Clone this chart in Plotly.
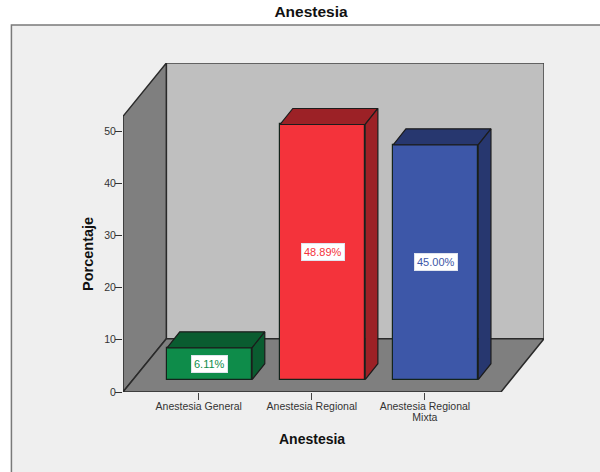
import plotly.graph_objects as go

# ---- data ----
categories = ["Anestesia General", "Anestesia Regional", "Anestesia Regional<br>Mixta"]
values = [6.11, 48.89, 45.00]
value_labels = ["6.11%", "48.89%", "45.00%"]
front_colors = ["#0e8c4a", "#f4333b", "#3d57a8"]
dark_colors = ["#0a5c30", "#9c2126", "#27376f"]
y_ticks = [0, 10, 20, 30, 40, 50]
title_text = "Anestesia"
x_title = "Anestesia"
y_title = "Porcentaje"

# ---- scales / 3-D projection ----
W, H = 600, 472
L, R, T, B = 123.0, 543.7, 63.0, 392.0
PX_X = 113.0          # px per category
PX_Y = 5.22           # px per percent
x0_px = 198.7         # px of category 0
xr = [(L - x0_px) / PX_X, (R - x0_px) / PX_X]
yr = [0, (B - T) / PX_Y]
wall_top = 52.8
floor_dx, floor_dy = 43.3 / PX_X, 53.3 / PX_Y
floor_right = (500.7 - x0_px) / PX_X
bar_dx, bar_dy = 12.7 / PX_X, 16.0 / PX_Y
bar_base = 12.3 / PX_Y
bar_w = 85.0 / PX_X
bar_shift = 10.8 / PX_X
EDGE = "#2a2a2a"

fig = go.Figure()


def poly(xs, ys, fill, width=1.5, color=EDGE):
    return dict(type="path", xref="x", yref="y", layer="below",
                path="M" + " L".join(f"{x},{y}" for x, y in zip(xs, ys)) + " Z",
                fillcolor=fill, line=dict(color=color, width=width))


shapes = [
    # outer panel
    dict(type="rect", xref="paper", yref="paper", layer="below",
         x0=(11.5 - L) / (R - L), x1=(620 - L) / (R - L),
         y0=(B - 500) / (B - T), y1=(B - 25) / (B - T),
         fillcolor="#efefef", line=dict(color="#7a7a7a", width=1.5)),
    # back wall
    poly([xr[0] + floor_dx, xr[1], xr[1], xr[0] + floor_dx],
         [floor_dy, floor_dy, wall_top + floor_dy, wall_top + floor_dy], "#bfbfbf", 1.5, "#444444"),
    # side wall
    poly([xr[0], xr[0] + floor_dx, xr[0] + floor_dx, xr[0]],
         [0, floor_dy, wall_top + floor_dy, wall_top], "#7f7f7f"),
    # floor
    poly([xr[0], floor_right, xr[1], xr[0] + floor_dx],
         [0, 0, floor_dy, floor_dy], "#7f7f7f"),
]

positions = [i + bar_shift for i in range(len(values))]

fig.add_trace(go.Bar(
    x=positions, y=values, base=bar_base, width=bar_w,
    marker=dict(color=front_colors, line=dict(color="#14241c", width=1.2)),
    showlegend=False, hoverinfo="skip",
))

for xc, v, dark in zip(positions, values, dark_colors):
    xl, xr_b = xc - bar_w / 2, xc + bar_w / 2
    top = bar_base + v
    # top face
    fig.add_trace(go.Scatter(
        x=[xl, xr_b, xr_b + bar_dx, xl + bar_dx, xl],
        y=[top, top, top + bar_dy, top + bar_dy, top],
        mode="lines", fill="toself", fillcolor=dark,
        line=dict(color="#1c1c1c", width=1.2), showlegend=False, hoverinfo="skip"))
    # side face
    fig.add_trace(go.Scatter(
        x=[xr_b, xr_b + bar_dx, xr_b + bar_dx, xr_b, xr_b],
        y=[bar_base, bar_base + bar_dy, top + bar_dy, top, bar_base],
        mode="lines", fill="toself", fillcolor=dark,
        line=dict(color="#1c1c1c", width=1.2), showlegend=False, hoverinfo="skip"))

annotations = [
    dict(x=xc, y=bar_base + v / 2, xref="x", yref="y", text=t, showarrow=False,
         font=dict(family="Liberation Sans", size=11, color=c),
         bgcolor="white", bordercolor="#dfe4ee", borderwidth=1, borderpad=2)
    for xc, v, t, c in zip(positions, values, value_labels, front_colors)
]
annotations += [
    dict(x=1, y=(B - 439) / (B - T), xref="x", yref="paper", text=f"<b>{x_title}</b>", showarrow=False,
         xanchor="center", yanchor="middle",
         font=dict(family="Liberation Sans", size=14, color="#111111")),
    dict(x=(88 - L) / (R - L), y=(B - 254) / PX_Y, xref="paper", yref="y", text=f"<b>{y_title}</b>",
         showarrow=False, textangle=-90, xanchor="center", yanchor="middle",
         font=dict(family="Liberation Sans", size=14.5, color="#111111")),
]

fig.update_layout(
    width=W, height=H, autosize=False,
    margin=dict(l=L, r=W - R, t=T, b=H - B, pad=0),
    paper_bgcolor="white", plot_bgcolor="rgba(0,0,0,0)",
    shapes=shapes, annotations=annotations, bargap=0,
    title=dict(text=f"<b>{title_text}</b>", x=311 / W, xanchor="center", y=1 - 12 / H, yanchor="middle",
               font=dict(family="Liberation Sans", size=15.5, color="#111111")),
    xaxis=dict(range=xr, tickmode="array", tickvals=list(range(len(categories))),
               ticktext=[f'<span style="font-size:10.5px">{c}</span>' for c in categories],
               ticks="outside", ticklen=7, tickwidth=1, tickcolor="#444444",
               tickfont=dict(family="Liberation Sans", size=8.5, color="#333333"),
               showgrid=False, zeroline=False, showline=False, tickangle=0),
    yaxis=dict(range=yr, tickmode="array", tickvals=y_ticks, ticks="outside", ticklen=7, tickwidth=1.2,
               tickcolor="#333333", ticklabelstandoff=-3,
               tickfont=dict(family="Liberation Sans", size=10.5, color="#333333"),
               showgrid=False, zeroline=False, showline=False),
)

fig.write_html("out.html", post_script="document.body.style.margin='0';", config=dict(displayModeBar=False))
